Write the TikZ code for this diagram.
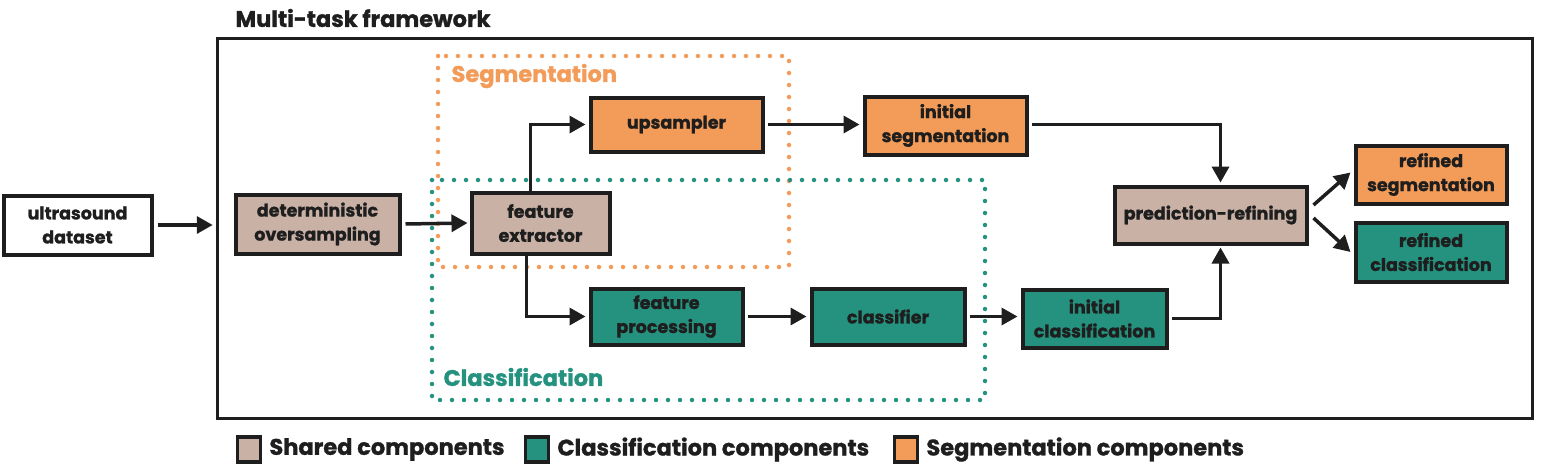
\documentclass[tikz,border=0pt]{standalone}
\usepackage{fontspec}
\setmainfont{Poppins}[BoldFeatures={FakeBold=1.2}]
\usetikzlibrary{arrows.meta}
\definecolor{ink}{HTML}{1E1E1E}
\definecolor{shared}{HTML}{C9B1A6}
\definecolor{cls}{HTML}{25917F}
\definecolor{seg}{HTML}{F39B58}
\begin{document}
\begin{tikzpicture}[x=1pt,y=-1pt,
  box/.style={rectangle,draw=ink,line width=4pt,text=ink,align=center,inner sep=0pt,
    font=\bfseries\fontsize{17.5}{24}\selectfont},
  arr/.style={draw=ink,line width=3.5pt,-{Triangle[length=16pt,width=17pt]}},
  zone/.style={line width=4.5pt,line cap=round,dash pattern=on 0pt off 12pt},
  big/.style={font=\bfseries\fontsize{22.5}{26}\selectfont},
  legsq/.style={rectangle,draw=ink,line width=3.5pt,minimum width=23pt,minimum height=25pt,inner sep=0pt}]
  \useasboundingbox (0,0) rectangle (1541,471);

	\node[big,text=ink,anchor=west] (title) at (232,18) {Multi-task framework};
	\node[rectangle,draw=ink,line width=3.5pt,minimum width=1315pt,minimum height=380pt] (frame) at (875,228.5) {};

	% task zones
	\draw[zone,seg] (438,56) rectangle (789,267);
	\draw[zone,cls] (432,180) rectangle (985,400);
	\node[big,text=seg,anchor=west] (seglabel) at (448,76) {Segmentation};
	\node[big,text=cls,anchor=west] (clslabel) at (440,377) {Classification};

	% components
	\node[box,fill=white,minimum width=148pt,minimum height=59pt] (us) at (77.5,225) {ultrasound\\dataset};
	\node[box,fill=shared,minimum width=164pt,minimum height=59pt] (det) at (317.5,224) {deterministic\\oversampling};
	\node[box,fill=shared,minimum width=138pt,minimum height=61pt] (fe) at (540.5,223) {feature\\extractor};
	\node[box,fill=seg,minimum width=172pt,minimum height=54pt] (ups) at (676.5,124.5) {upsampler};
	\node[box,fill=seg,minimum width=162pt,minimum height=58pt] (iseg) at (945.5,125.5) {initial\\segmentation};
	\node[box,fill=cls,minimum width=152pt,minimum height=56pt] (fp) at (666.5,316.5) {feature\\processing};
	\node[box,fill=cls,minimum width=153pt,minimum height=56pt] (clf) at (888,316.5) {classifier};
	\node[box,fill=cls,minimum width=144pt,minimum height=58pt] (icls) at (1094.5,318.5) {initial\\classification};
	\node[box,fill=shared,minimum width=192pt,minimum height=57pt] (pr) at (1210.5,215) {prediction-refining};
	\node[box,fill=seg,minimum width=151pt,minimum height=58pt] (rseg) at (1431,174.5) {refined\\segmentation};
	\node[box,fill=cls,minimum width=151pt,minimum height=59pt] (rcls) at (1431,252) {refined\\classification};

	% flow
	\draw[arr] ([xshift=4pt]us.east) -- ([xshift=-3pt]us.east -| frame.west);
	\draw[arr] ([xshift=4pt]det.east) -- ([xshift=-2pt]fe.west);
	\draw[arr] ([xshift=-10pt]fe.north) |- ([xshift=-3pt]ups.west);
	\draw[arr] ([xshift=-14pt]fe.south) |- ([xshift=-3pt]fp.west);
	\draw[arr] ([xshift=3pt]ups.east) -- ([xshift=-3pt]ups.east -| iseg.west);
	\draw[arr] ([xshift=3pt]fp.east) -- ([xshift=-3pt]fp.east -| clf.west);
	\draw[arr] ([xshift=3pt]clf.east) -- ([xshift=-3pt]clf.east -| icls.west);
	\draw[arr] ([xshift=3pt,yshift=1pt]iseg.east) -| ([xshift=10pt,yshift=2pt]pr.north);
	\draw[arr] ([xshift=3pt]icls.east) -| ([xshift=10pt,yshift=-2pt]pr.south);
	\draw[arr] ([xshift=5pt,yshift=10pt]pr.east) -- ([xshift=-3pt,yshift=2pt]rseg.west);
	\draw[arr] ([xshift=5pt,yshift=-3pt]pr.east) -- ([xshift=-3pt]rcls.west);

	% legend
	\node[legsq,fill=shared] (lshared) at (249,449.5) {};
	\node[big,text=ink,anchor=west,inner sep=0pt] (tshared) at ([xshift=7pt]lshared.east) {Shared components};
	\node[legsq,fill=cls] (lcls) at (537,449.5) {};
	\node[big,text=ink,anchor=west,inner sep=0pt] (tcls) at ([xshift=7pt]lcls.east) {Classification components};
	\node[legsq,fill=seg] (lseg) at (906,449.5) {};
	\node[big,text=ink,anchor=west,inner sep=0pt] (tseg) at ([xshift=7pt]lseg.east) {Segmentation components};
\end{tikzpicture}
\end{document}
